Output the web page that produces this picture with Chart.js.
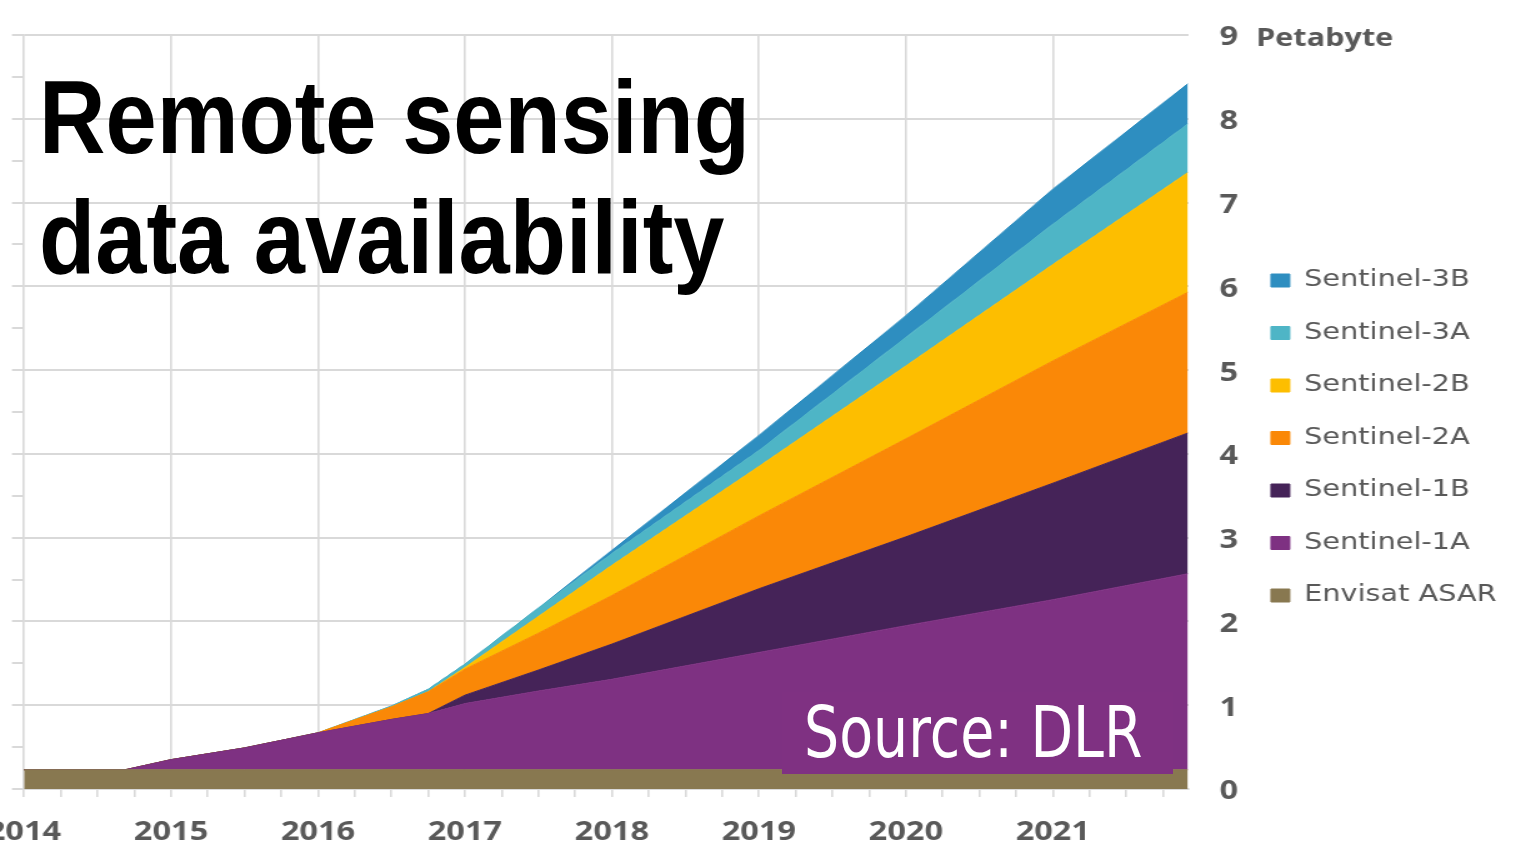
<!DOCTYPE html>
<html>
<head>
<meta charset="utf-8">
<script src="https://cdn.jsdelivr.net/npm/chart.js@4.4.1/dist/chart.umd.min.js"></script>
<style>
html,body{margin:0;padding:0;background:#fff;width:1516px;height:845px;overflow:hidden;}
#wrap{position:relative;width:1516px;height:845px;}
#c{position:absolute;left:0;top:0;}
#title{position:absolute;left:39px;top:57px;font-family:'Liberation Sans',Arial,sans-serif;font-weight:bold;font-size:104px;line-height:120px;color:#000;transform:scaleX(0.885);transform-origin:0 0;white-space:nowrap;}
#srcbox{position:absolute;left:782px;top:692px;width:391px;height:82px;background:#7f3182;}
#src{position:absolute;left:804px;top:697px;font-family:'DejaVu Sans',sans-serif;font-size:71px;line-height:71px;color:#fff;transform:scaleX(0.78);transform-origin:0 0;white-space:nowrap;}
</style>
</head>
<body>
<div id="wrap">
<canvas id="c" width="1213" height="845" style="width:1516px;height:845px;"></canvas>
<div id="title">Remote sensing<br>data availability</div>
<div id="srcbox"></div>
<div id="src">Source: DLR</div>
</div>
<script>
// ---- data (Petabyte per mission, stacked) ----
const years        = [2014, 2014.69, 2015, 2015.5, 2016, 2016.5, 2016.75, 2017, 2017.5, 2018, 2019, 2020, 2021, 2021.92];
const envisatASAR  = [0.23, 0.23, 0.23, 0.23, 0.23, 0.23, 0.23, 0.23, 0.23, 0.23, 0.23, 0.23, 0.23, 0.23];
const sentinel1A   = [0, 0, 0.12, 0.26, 0.44, 0.60, 0.67, 0.79, 0.94, 1.08, 1.40, 1.72, 2.03, 2.34];
const sentinel1B   = [0, 0, 0, 0, 0, 0, 0, 0.10, 0.25, 0.42, 0.76, 1.06, 1.39, 1.68];
const sentinel2A   = [0, 0, 0, 0, 0, 0.15, 0.26, 0.31, 0.44, 0.58, 0.87, 1.17, 1.46, 1.68];
const sentinel2B   = [0, 0, 0, 0, 0, 0, 0, 0.02, 0.20, 0.36, 0.59, 0.87, 1.15, 1.43];
const sentinel3A   = [0, 0, 0, 0, 0, 0.01, 0.03, 0.04, 0.10, 0.14, 0.19, 0.34, 0.48, 0.58];
const sentinel3B   = [0, 0, 0, 0, 0, 0, 0, 0, 0, 0.04, 0.18, 0.26, 0.42, 0.48];
const seriesNames  = ['Envisat ASAR', 'Sentinel-1A', 'Sentinel-1B', 'Sentinel-2A', 'Sentinel-2B', 'Sentinel-3A', 'Sentinel-3B'];
const yearLabels   = [2014, 2015, 2016, 2017, 2018, 2019, 2020, 2021];
const yTickLabels  = ['0', '1', '2', '3', '4', '5', '6', '7', '8', '9'];
const yUnit        = 'Petabyte';
const xMin = 2014, xMax = 2021.92, yMin = 0, yMax = 9;

// ---- styling ----
const seriesValues = [envisatASAR, sentinel1A, sentinel1B, sentinel2A, sentinel2B, sentinel3A, sentinel3B];
const seriesColors = ['#887850', '#7e3182', '#452358', '#fa8807', '#fdbe00', '#4eb5c6', '#2e8ec0'];
const W = 1213, S = 1516 / W;          // canvas drawn narrower, stretched horizontally by CSS
const gridGrey = '#d9d9d9', textGrey = '#595959';
const LBL_PAD = 29.5, BOX_W = 15, PAD_B = 4, Y_LABEL_SHIFT = 3;
const legendLeftTarget = 1271 / S - LBL_PAD;
const plotRight = 1188 / S;
const tickFont = { family: 'Open Sans', weight: 'bold', size: 26 };

const quarterTicks = [];
yearLabels.forEach(y => { for (let q = 0; q < 4; q++) quarterTicks.push(y + q * 0.25); });
const isYear = v => Math.abs(v - Math.round(v)) < 1e-6;
const noPad = s => { s.paddingLeft = 0; s.paddingRight = 0; s.paddingTop = 0; s.paddingBottom = 0; };

const datasets = seriesNames.map((name, i) => ({
  label: name,
  data: years.map((x, j) => ({ x: x, y: seriesValues[i][j] })),
  backgroundColor: seriesColors[i],
  borderColor: seriesColors[i],
  borderWidth: 1,
  fill: i === 0 ? 'origin' : '-1',
  pointRadius: 0,
  pointHoverRadius: 0,
  tension: 0,
  xAxisID: 'x',
  yAxisID: 'y'
}));

const unitPlugin = {
  id: 'unitLabel',
  afterDraw(chart) {
    const y = chart.scales.y;
    const ctx = chart.ctx;
    ctx.save();
    ctx.font = 'bold 24.5px "Open Sans"';
    ctx.fillStyle = textGrey;
    ctx.textAlign = 'left';
    ctx.textBaseline = 'middle';
    ctx.fillText(yUnit, 1256 / S, y.getPixelForValue(yMax) + Y_LABEL_SHIFT + 1);
    ctx.restore();
  }
};

const cfg = {
  type: 'line',
  data: { datasets: datasets },
  options: {
    responsive: false,
    devicePixelRatio: 1,
    animation: false,
    events: [],
    layout: { autoPadding: false, padding: { left: 12 / S, top: 35, bottom: PAD_B, right: 4 } },
    plugins: {
      tooltip: { enabled: false },
      title: { display: false },
      legend: {
        position: 'right',
        align: 'center',
        reverse: true,
        maxWidth: 400,
        labels: {
          boxWidth: BOX_W, boxHeight: 13, padding: LBL_PAD,
          color: textGrey,
          font: { family: 'DejaVu Sans', size: 23 }
        }
      }
    },
    scales: {
      x: {
        type: 'linear', min: xMin, max: xMax, position: 'bottom',
        afterBuildTicks: s => { s.ticks = quarterTicks.map(v => ({ value: v })); },
        afterFit: s => { s.height = 845 - PAD_B - 789; noPad(s); },
        grid: {
          color: c => (c.tick && isYear(c.tick.value)) ? gridGrey : 'rgba(0,0,0,0)',
          lineWidth: 2 / S,
          tickColor: gridGrey, tickLength: 8, tickWidth: 2 / S,
          drawOnChartArea: true
        },
        border: { display: true, color: gridGrey, width: 2 },
        ticks: {
          autoSkip: false, maxRotation: 0, minRotation: 0, padding: 20,
          color: textGrey, font: tickFont,
          callback: v => isYear(v) ? String(yearLabels[yearLabels.indexOf(Math.round(v))]) : ''
        }
      },
      y: {
        type: 'linear', position: 'right', stacked: true, min: yMin, max: yMax,
        afterFit: s => { s.width = legendLeftTarget - plotRight; noPad(s); },
        grid: { color: gridGrey, lineWidth: 2, drawTicks: false },
        border: { display: false },
        ticks: {
          stepSize: 1, mirror: true, crossAlign: 'near', padding: 1238 / S - plotRight,
          labelOffset: Y_LABEL_SHIFT,
          color: textGrey, font: tickFont,
          callback: (v) => yTickLabels[Math.round(v)]
        }
      },
      y2: {
        type: 'linear', position: 'left', min: yMin, max: yMax,
        afterFit: s => { s.width = 12 / S; noPad(s); },
        grid: { drawOnChartArea: false, color: gridGrey, tickColor: gridGrey, tickLength: 12 / S, tickWidth: 2, lineWidth: 2 },
        border: { display: false },
        ticks: { stepSize: 0.5, display: false }
      }
    }
  },
  plugins: [unitPlugin]
};

const chart = new Chart(document.getElementById('c'), cfg);
const lw = chart.legend.width;
chart.options.layout.padding = { left: 12 / S, top: 35, bottom: PAD_B, right: Math.max(0, W - legendLeftTarget - lw) };
chart.update('none');
</script>
</body>
</html>
